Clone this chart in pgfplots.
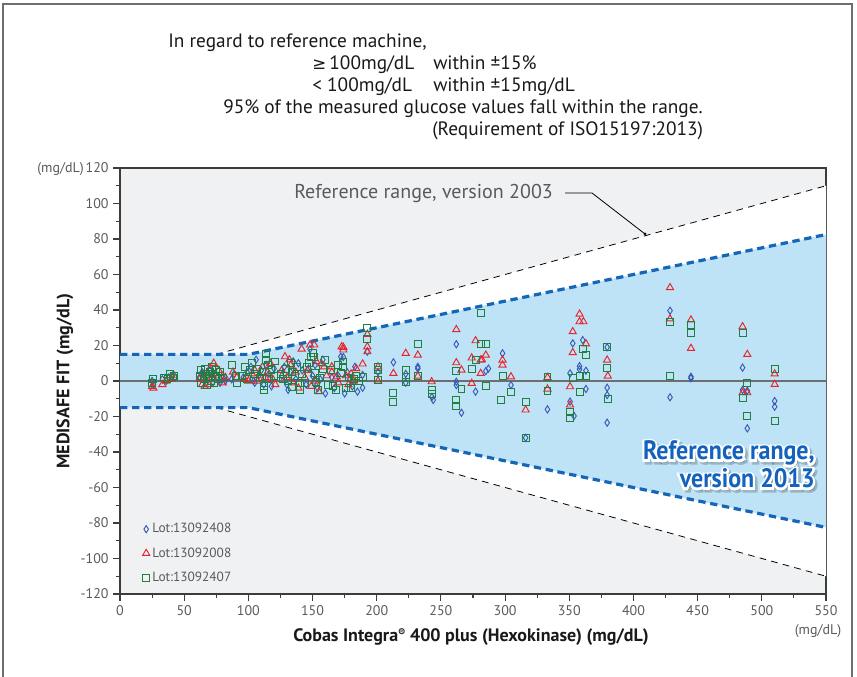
\documentclass[border=0pt]{standalone}
\usepackage{pgfplots}
\pgfplotsset{compat=1.18}
\usepackage{fontspec}
\setmainfont{PT Sans}
\newfontfamily\sym{DejaVu Sans}
\newfontfamily\cond[FakeStretch=0.9]{PT Sans}
\newfontfamily\condhalo[FakeStretch=0.9, FakeBold=16]{PT Sans}
\definecolor{bggray}{RGB}{240,241,243}
\definecolor{bandblue}{RGB}{190,227,247}
\definecolor{lineblue}{RGB}{22,102,184}
\definecolor{dblue}{RGB}{55,90,180}
\definecolor{tred}{RGB}{232,35,42}
\definecolor{sgreen}{RGB}{30,128,60}
\definecolor{txtgray}{RGB}{90,90,90}
\definecolor{axgray}{RGB}{60,60,60}
\definecolor{labblue}{RGB}{18,98,190}
\definecolor{framegray}{RGB}{110,110,110}
\newcommand{\labsize}{\bfseries\fontsize{20}{22}\selectfont}
\newcommand{\halo}[2]{%
  \node[anchor=base east, text=black, opacity=0.2, inner sep=0, xshift=1.8pt, yshift=-1.8pt] at (#1) {\condhalo\labsize #2};
  \node[anchor=base east, text=white, inner sep=0] at (#1) {\condhalo\labsize #2};
  \node[anchor=base east, text=labblue, inner sep=0] at (#1) {\cond\labsize #2};
}
\begin{document}
\begin{tikzpicture}
\path[use as bounding box] (0,0) rectangle (642.75pt,507.75pt);
\begin{axis}[
  at={(90pt,62.25pt)}, anchor=south west,
  scale only axis, width=529.5pt, height=319.5pt,
  xmin=0, xmax=550, ymin=-120, ymax=120,
  xtick={0,50,...,550}, ytick={-120,-100,...,120},
  minor x tick num=1, minor y tick num=1,
  tick align=outside, xtick pos=bottom, ytick pos=left,
  major tick length=5pt, minor tick length=3pt,
  axis line style={axgray, line width=0.9pt},
  every tick/.style={axgray, line width=0.8pt},
  axis background/.style={fill=bggray},
  tick label style={font=\fontsize{10.5}{12}\selectfont, text=txtgray},
  /pgf/number format/assume math mode=true,
  legend cell align=left,
  legend style={at={(0.026,0.012)}, anchor=south west, draw=none, fill=none,
    font=\fontsize{10}{11}\selectfont, text=txtgray, row sep=5.5pt},
]
\addplot[forget plot, fill=white, draw=none] coordinates {(0,15)(75,15)(550,110)(550,-110)(75,-15)(0,-15)} -- cycle;
\addplot[forget plot, fill=bandblue, draw=none] coordinates {(0,15)(100,15)(550,82.5)(550,-82.5)(100,-15)(0,-15)} -- cycle;
\addplot[forget plot, black, line width=0.6pt, dash pattern=on 5pt off 4pt] coordinates {(0,15)(75,15)(550,110)};
\addplot[forget plot, black, line width=0.6pt, dash pattern=on 5pt off 4pt] coordinates {(0,-15)(75,-15)(550,-110)};
\addplot[forget plot, lineblue, line width=2.4pt, dash pattern=on 5.5pt off 3.5pt] coordinates {(0,15)(100,15)(550,82.5)};
\addplot[forget plot, lineblue, line width=2.4pt, dash pattern=on 5.5pt off 3.5pt] coordinates {(0,-15)(100,-15)(550,-82.5)};
\addplot[forget plot, color={rgb,255:red,110;green,110;blue,110}, line width=1.1pt] coordinates {(0,0)(550,0)};
\addplot[only marks, mark=diamond, mark size=2.7pt, color=dblue, mark options={xscale=0.85, line width=0.7pt}] coordinates {
(25,0)(26,-2)(33,1)(36,0)(38,2)(41,3)(62,2)(64,5)(65,4)(66,0)(68,3)(70,6)(72,-1)(74,4)(76,2)(78,-1)(80,3)(82,0)(87,1)(89,4)(96,2)(99,5)(102,8)(104,0)(105,-1)(106,12)(108,3)(110,6)(112,-2)(114,9)(116,4)(118,-3)(120,7)(126,3)(128,8)(130,-2)(131,-5)(133,5)(135,11)(137,1)(139,10)(142,6)(145,-2)(147,7)(148,17.9)(150,3)(151,-1)(152,9)(154,-4)(156,1)(158,12)(160,-7)(165,2)(167,-4)(170,3)(172,13.7)(174,13.5)(175,-7)(177,5)(179,1)(181,-3)(183,8)(185,-6)(189,3.4)(189,-3.8)(192.7,16.5)(201,5)(213,10.5)(222.6,4)(222.6,-1)(232,8)(232,7)(243,-9)(244,-10.7)(262,20.7)(262,-0.4)(262,-2.3)(266,-17.9)(277,-6)(285,5.6)(287,7)(298,15.6)(304.6,-2.3)(316,-32)(333,-16)(350.6,4.3)(350.6,-11.6)(352.7,21.2)(353.7,-19.7)(358,8.4)(358,6.6)(360.5,23)(363,5.8)(363,-4.5)(379.5,19)(379.5,-3.8)(379.5,-7.9)(379.5,-23.5)(428.5,39.6)(428.5,-9.2)(444.8,2.4)(444.8,1.5)(485,7.5)(485,-5)(488.7,-5.5)(488.7,-26.7)(510,-11.3)(510,-14.5)};
\addlegendentry{Lot:13092408}
\addplot[only marks, mark=triangle, mark size=3.1pt, color=tred, mark options={line width=0.7pt}] coordinates {
(25,-3)(26,-4)(33,-2)(36,0)(40,1)(42,3)(62,1)(64,-2)(66,-3)(68,4)(70,7)(70,-2)(72,2)(73,10)(75,3)(77,6)(80,-1)(82,2)(88,5)(91,2)(97,1)(100,0)(103,4)(105,6)(107,0)(109,3)(111,8)(113,2)(115,5)(117,10)(119,1)(121,-2)(126,6)(128.5,13.7)(130,2)(132,12)(133,9)(135,-1)(137,5)(139,-4)(141.5,18)(144,2)(146,6)(148,20.3)(149,-3)(151.4,20.3)(152,0)(153,11)(155,-6)(157,9.6)(159,8)(161,3)(165,8)(165,5)(168.8,2.4)(170,-1)(172.7,19.3)(174,19)(174,17.5)(176,3)(178,-2)(180,4)(182,0)(184,7)(189,9.6)(192.7,26.3)(192.7,19.3)(192.7,16.5)(201,8)(201,0)(213,4.3)(222.6,15.6)(232,14.6)(232,2.8)(242.8,-0.4)(262,29)(262,10.3)(266,6.2)(274,13)(274,-1.3)(277,22.7)(281,11.8)(281,4.3)(282,12)(285,14.6)(298,11.8)(298,9)(304.6,2.4)(316,-16.3)(333,2)(333,-4.5)(350.6,-3.2)(350.6,-13.5)(352.7,27.8)(352.7,16)(358,37.7)(358,33.4)(361,33.4)(363,21)(379.5,11.8)(380,2.8)(428.5,52.6)(428.5,35)(444.8,34.4)(444.8,18.4)(485,30.6)(485,-6.6)(488.7,15)(488.7,-6.6)(510,4)(510,-1.9)};
\addlegendentry{Lot:13092008}
\addplot[only marks, mark=square, mark size=2.6pt, color=sgreen, mark options={line width=0.7pt}] coordinates {
(25,-1)(26,1)(34,2)(37,1)(39,4)(41,2)(42,3)(62,3)(63,6)(63,-1)(65,1)(66,7)(67,4)(68,-2)(69,2)(70,5)(71,0)(72,8)(73,-1)(74,3)(75,6)(76,1)(78,5)(80,2)(87,9)(90,3)(91,-1)(95,3)(97,8)(99,1)(101,6)(103,10)(105,4)(107,7)(109,2)(111,5)(112,-3)(112,-5)(114,15)(114,12)(115,9)(116,1)(118,6)(120,3)(121,11)(125,4)(127,1)(129,7)(131,0)(133,10)(134,5.2)(134,-3.2)(136,3)(138,8)(140,-1)(140,-5)(142,4)(144,-1)(146,8)(147,10)(149,13.7)(150,16)(151,13.7)(152,4.5)(153,-0.4)(154,-5)(156,2)(158,7)(160,11.8)(162,-2)(164,6)(166,-3)(168,-5)(170,9)(172,4.3)(174,11)(174,8)(176,-4)(178,2)(180,-4)(182,1)(184,3)(186,0)(189,2.5)(192.7,30)(192.7,23.5)(201,8)(201,6.2)(201,0.5)(213,-6.6)(213,-11.7)(222.6,6.2)(222.6,2.4)(222.6,-0.4)(232,20.7)(232,2.8)(242.8,-5)(242.8,-7.5)(262,5.6)(262,-10.7)(262,-14)(266,-4.7)(274,6.8)(277,12)(281,38.5)(281,20.7)(285,20.7)(285,-3)(297,-10.7)(298,2.8)(304.6,-6)(316,-12)(316,-32)(333,2.4)(333,-5.5)(350.6,-17.3)(350.6,-20.7)(353,1.5)(358,2.8)(358,-6)(360.5,17.8)(363,2.8)(363,14.6)(379.5,19)(379.5,7.5)(380,-10.3)(428.5,33)(428.5,2.8)(444.8,31.5)(444.8,27)(485,27.2)(485,-9.4)(488.7,-1.3)(488.7,-19.5)(510,6.6)(510,-22.5)};
\addlegendentry{Lot:13092407}
\end{axis}
\begin{scope}[x=0.75pt, y=-0.75pt, yshift=507.75pt]
  \draw[framegray, line width=1pt] (3,677)--(3,4)--(852,4)--(852,677);
  \begin{scope}[every node/.style={inner sep=0, font=\fontsize{14.5}{16}\selectfont, text=black!90}]
    \node[anchor=base west] at (168,48) {In regard to reference machine,};
    \node[anchor=base west] at (312,70) {{\sym\fontsize{12.5}{14}\selectfont ≥}\,100mg/dL};
    \node[anchor=base west] at (433,70) {within ±15\%};
    \node[anchor=base west] at (312,92) {< 100mg/dL};
    \node[anchor=base west] at (433,92) {within ±15mg/dL};
    \node[anchor=base west] at (223,114) {95\% of the measured glucose values fall within the range.};
    \node[anchor=base west] at (432,136) {(Requirement of ISO15197:2013)};
  \end{scope}
  \node[anchor=east, inner sep=0, font=\fontsize{10.5}{12}\selectfont, text=txtgray] at (84,169) {(mg/dL)};
  \node[anchor=center, inner sep=0, font=\fontsize{10.5}{12}\selectfont, text=txtgray] at (818,631) {(mg/dL)};
  \node[rotate=90, inner sep=0, font=\bfseries\fontsize{13.5}{15}\selectfont, text=black!90] at (65,381) {MEDISAFE FIT (mg/dL)};
  \node[inner sep=0, font=\bfseries\fontsize{13.5}{15}\selectfont, text=black!90] at (471,637) {Cobas Integra{\fontsize{8}{8}\selectfont\raisebox{0.5em}{®}} 400 plus (Hexokinase) (mg/dL)};
  \node[anchor=base west, inner sep=0, font=\fontsize{15}{16}\selectfont, text=txtgray] at (294,199) {Reference range, version 2003};
  \draw[black, line width=0.6pt] (565,193)--(592,193)--(645,234);
  \fill[black] (645,234) circle (1.5);
  \halo{815,460}{Reference range,}
  \halo{815,488}{version 2013}
\end{scope}
\end{tikzpicture}
\end{document}
